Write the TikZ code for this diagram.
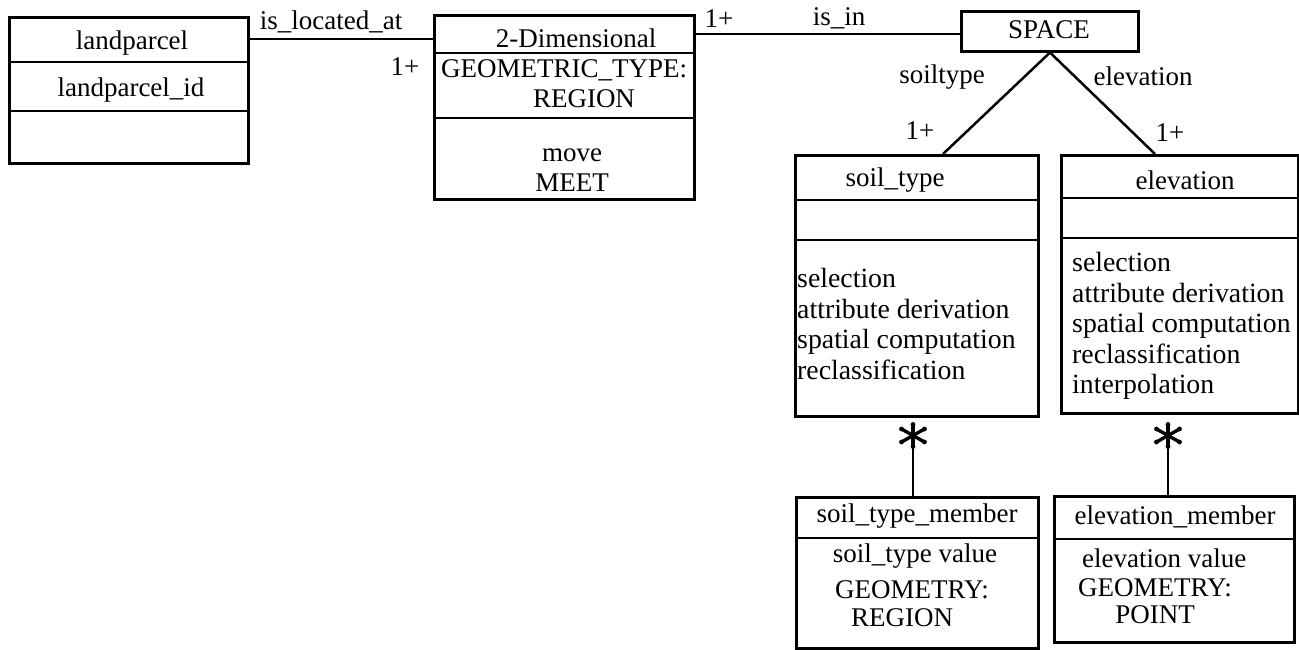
\documentclass[tikz,border=0pt]{standalone}
\usepackage{fontspec}
\setmainfont{Liberation Serif}
\usetikzlibrary{calc}
\begin{document}
\begin{tikzpicture}[x=1pt,y=-1pt,
  cls/.style={draw,line width=2.5pt,inner sep=0pt,anchor=north west},
  div/.style={line width=2.5pt},
  conn/.style={line width=2.5pt},
  txt/.style={inner sep=0pt,font=\fontsize{27}{30.5}\selectfont},
  ops/.style={inner sep=0pt,align=left,anchor=west,font=\fontsize{27.8}{30.5}\selectfont},
  lft/.style={txt,anchor=west},
  starline/.style={line width=3.4pt,line cap=round}]
\useasboundingbox (0,0) rectangle (1299,649);

% class boxes
\node[cls,minimum width=239pt,minimum height=146pt] (lp) at (8,16) {};
\node[cls,minimum width=260pt,minimum height=184pt] (dim) at (433,14) {};
\node[cls,minimum width=177pt,minimum height=40pt] (space) at (960,10) {};
\node[cls,minimum width=243pt,minimum height=261pt] (st) at (794,154) {};
\node[cls,minimum width=237pt,minimum height=258pt] (el) at (1060,154) {};
\node[cls,minimum width=242pt,minimum height=151pt] (stm) at (795,496) {};
\node[cls,minimum width=240pt,minimum height=146pt] (elm) at (1053,495) {};

% dividers
\draw[div] ($(lp.north west)+(0,46)$) -- ($(lp.north east)+(0,46)$);
\draw[div] ($(lp.north west)+(0,95)$) -- ($(lp.north east)+(0,95)$);
\draw[div] ($(dim.north west)+(0,39)$) -- ($(dim.north east)+(0,39)$);
\draw[div] ($(dim.north west)+(0,104)$) -- ($(dim.north east)+(0,104)$);
\draw[div] ($(st.north west)+(0,46)$) -- ($(st.north east)+(0,46)$);
\draw[div] ($(st.north west)+(0,86)$) -- ($(st.north east)+(0,86)$);
\draw[div] ($(el.north west)+(0,44)$) -- ($(el.north east)+(0,44)$);
\draw[div] ($(el.north west)+(0,84)$) -- ($(el.north east)+(0,84)$);
\draw[div] ($(stm.north west)+(0,42)$) -- ($(stm.north east)+(0,42)$);
\draw[div] ($(elm.north west)+(0,44)$) -- ($(elm.north east)+(0,44)$);

% connectors
\draw[conn] ($(lp.north east)+(0,23)$) -- ($(dim.north west)+(0,25)$);
\draw[conn] ($(dim.north east)+(0,20)$) -- ($(space.north west)+(0,24)$);
\coordinate (sp) at ($(space.south west)+(90,0)$);
\draw[conn] (sp) -- ($(st.north west)+(149,0)$);
\draw[conn] (sp) -- ($(el.north west)+(95,0)$);

% aggregation stars
\coordinate (s1) at ($(st.south west)+(119,18)$);
\coordinate (s2) at ($(el.south west)+(108,21)$);
\draw[conn] (s1) -- (s1 |- stm.north);
\draw[conn] (s2) -- (s2 |- elm.north);
\foreach \s in {s1,s2}{
  \draw[starline] ($(\s)+(0,-11)$) -- ($(\s)+(0,11)$);
  \draw[starline] ($(\s)+(-11.5,-6.5)$) -- ($(\s)+(11.5,6.5)$);
  \draw[starline] ($(\s)+(-11.5,6.5)$) -- ($(\s)+(11.5,-6.5)$);
  \foreach \px/\py in {0/-11,0/11,-11.5/-6.5,11.5/6.5,-11.5/6.5,11.5/-6.5}
    \fill ($(\s)+(\px,\py)$) circle (2.4pt);
}

% texts: landparcel
\node[txt] (t1) at (132,43) {landparcel};
\node[txt] (t2) at (131,90) {landparcel\_id};
% 2-Dimensional
\node[txt] (t3) at (576,38) {2-Dimensional};
\node[lft] (t4) at (441,70) {GEOMETRIC\_TYPE:};
\node[txt] (t5) at (584,99) {REGION};
\node[txt] (t6) at (572,155) {move};
\node[txt] (t7) at (572,183) {MEET};
% SPACE
\node[txt] (t8) at (1049,30) {SPACE};
% soil_type
\node[txt] (t9) at (895,180) {soil\_type};
\node[ops] (t10) at (797,324) {selection\\attribute derivation\\spatial computation\\reclassification};
% elevation
\node[txt] (t11) at (1185,180) {elevation};
\node[ops] (t12) at (1072,326) {selection\\attribute derivation\\spatial computation\\reclassification\\interpolation};
% members
\node[txt] (t13) at (917,516) {soil\_type\_member};
\node[txt] (t14) at (915,556) {soil\_type value};
\node[lft] (t15) at (835,590) {GEOMETRY:};
\node[lft] (t16) at (851,618) {REGION};
\node[txt] (t17) at (1175,517) {elevation\_member};
\node[lft] (t18) at (1082,558) {elevation value};
\node[lft] (t19) at (1078,588) {GEOMETRY:};
\node[txt] (t20) at (1155,615) {POINT};

% association labels
\node[txt] (l1) at (331,22) {is\_located\_at};
\node[txt] (l2) at (405,67) {1+};
\node[txt] (l3) at (719,19) {1+};
\node[txt] (l4) at (839,18) {is\_in};
\node[txt] (l5) at (942,77) {soiltype};
\node[txt] (l6) at (1143,76) {elevation};
\node[txt] (l7) at (920,131) {1+};
\node[txt] (l8) at (1170,133) {1+};
\end{tikzpicture}
\end{document}
